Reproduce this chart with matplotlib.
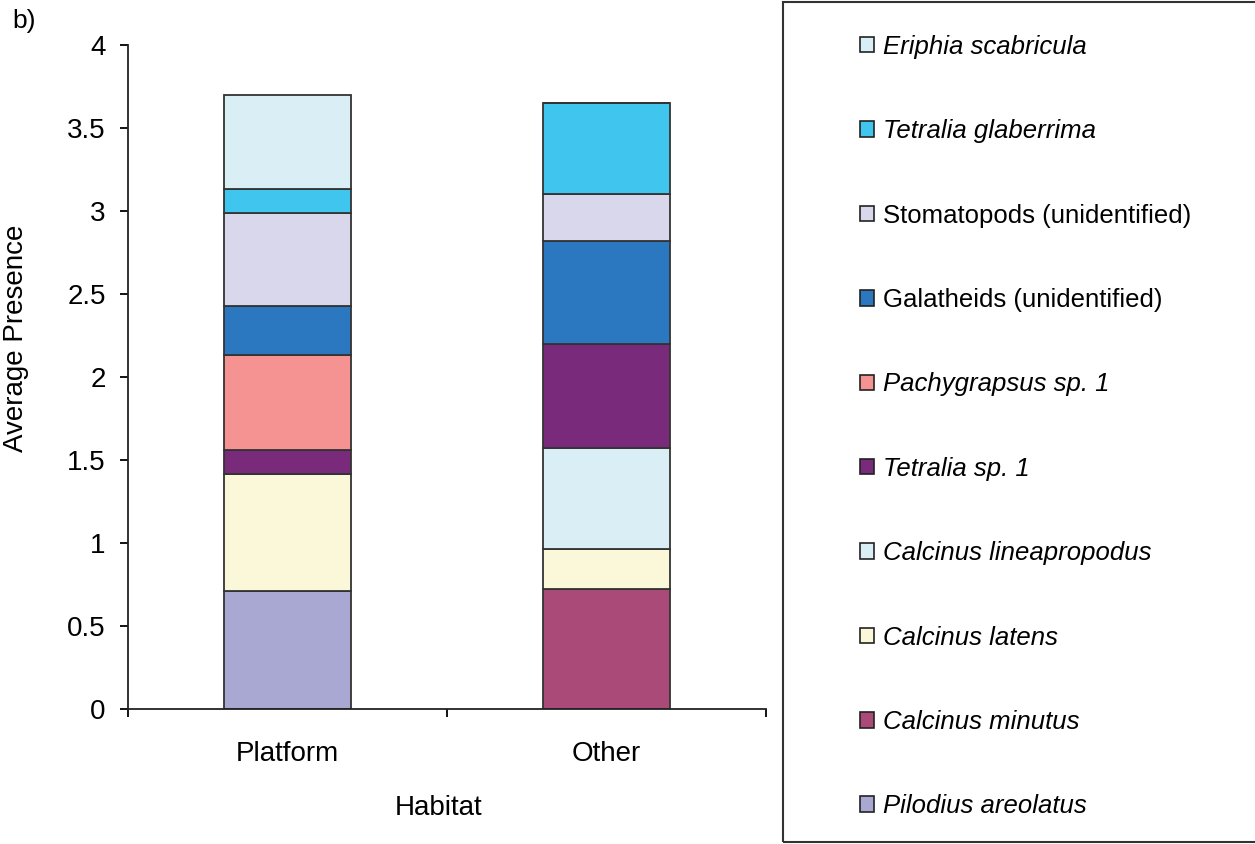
import numpy as np
import matplotlib
matplotlib.use('Agg')
import matplotlib.pyplot as plt
from matplotlib.patches import Patch, Rectangle

plt.rcParams['font.family'] = ['Liberation Sans', 'DejaVu Sans']

habitats = ['Platform', 'Other']

# stack order from bottom to top
species = ['Pilodius areolatus', 'Calcinus minutus', 'Calcinus latens',
           'Calcinus lineapropodus', 'Tetralia sp. 1', 'Pachygrapsus sp. 1',
           'Galatheids (unidentified)', 'Stomatopods (unidentified)',
           'Tetralia glaberrima', 'Eriphia scabricula']
italic = [True, True, True, True, True, True, False, False, True, True]

platform = [0.71, 0.0, 0.705, 0.0, 0.145, 0.57, 0.295, 0.565, 0.14, 0.57]
other = [0.0, 0.72, 0.245, 0.61, 0.625, 0.0, 0.62, 0.28, 0.55, 0.0]

colors = ['#A9A8D2', '#A94A78', '#FAF8D8', '#DAEFF5', '#7A2A7A',
          '#F59393', '#2B78C0', '#D8D7EB', '#40C5EE', '#DAEFF5']

fig = plt.figure(figsize=(12.55, 8.44), dpi=100)
ax = fig.add_axes([128 / 1255, 1 - 709 / 844, 638 / 1255, 664 / 844])

x = np.arange(len(habitats))
bottom = np.zeros(len(habitats))
for i, name in enumerate(species):
    vals = np.array([platform[i], other[i]])
    ax.bar(x, vals, 0.4, bottom=bottom, color=colors[i],
           edgecolor='#333333', linewidth=1.3, label=name)
    bottom = bottom + vals

ax.set_xlim(-0.5, 1.5)
ax.set_ylim(0, 4)
ax.set_yticks(np.arange(0, 4.01, 0.5))
ax.set_yticklabels(['0', '0.5', '1', '1.5', '2', '2.5', '3', '3.5', '4'])
ax.set_xticks([-0.5, 0.5, 1.5])
ax.set_xticklabels([])
ax.set_xticks(x, minor=True)
ax.set_xticklabels(habitats, minor=True)
ax.tick_params(axis='x', which='major', direction='out', length=6, width=1.3)
ax.tick_params(axis='x', which='minor', length=0, pad=23, labelsize=20)
ax.tick_params(axis='y', direction='out', length=6, width=1.3, pad=10, labelsize=20)
for s in ['top', 'right']:
    ax.spines[s].set_visible(False)
for s in ['left', 'bottom']:
    ax.spines[s].set_linewidth(1.3)
    ax.spines[s].set_color('#222222')

ax.set_ylabel('Average Presence', fontsize=20, va='center')
ax.yaxis.set_label_coords(-0.1755, 0.559)
ax.set_xlabel('Habitat', fontsize=20, va='center')
ax.xaxis.set_label_coords(0.486, -0.149)
fig.text(12 / 1255, 1 - 21 / 844, 'b)', fontsize=19, va='center', ha='left')

# legend box
fig.patches.append(Rectangle((783 / 1255, 2 / 844), 480 / 1255, 840 / 844,
                             transform=fig.transFigure, fill=False,
                             edgecolor='#333333', linewidth=1.5))
handles = [Patch(facecolor=colors[i], edgecolor='#222222', linewidth=1.2)
           for i in range(len(species))][::-1]
leg = fig.legend(handles, species[::-1], loc='upper left',
                 bbox_to_anchor=(847 / 1255, 1 - 22 / 844), frameon=False,
                 fontsize=18.5, handlelength=0.55, handleheight=0.55,
                 handletextpad=0.35, labelspacing=2.35, borderpad=0)
for t, it in zip(leg.get_texts(), italic[::-1]):
    if it:
        t.set_fontstyle('italic')

fig.savefig('out.png', dpi=100)
